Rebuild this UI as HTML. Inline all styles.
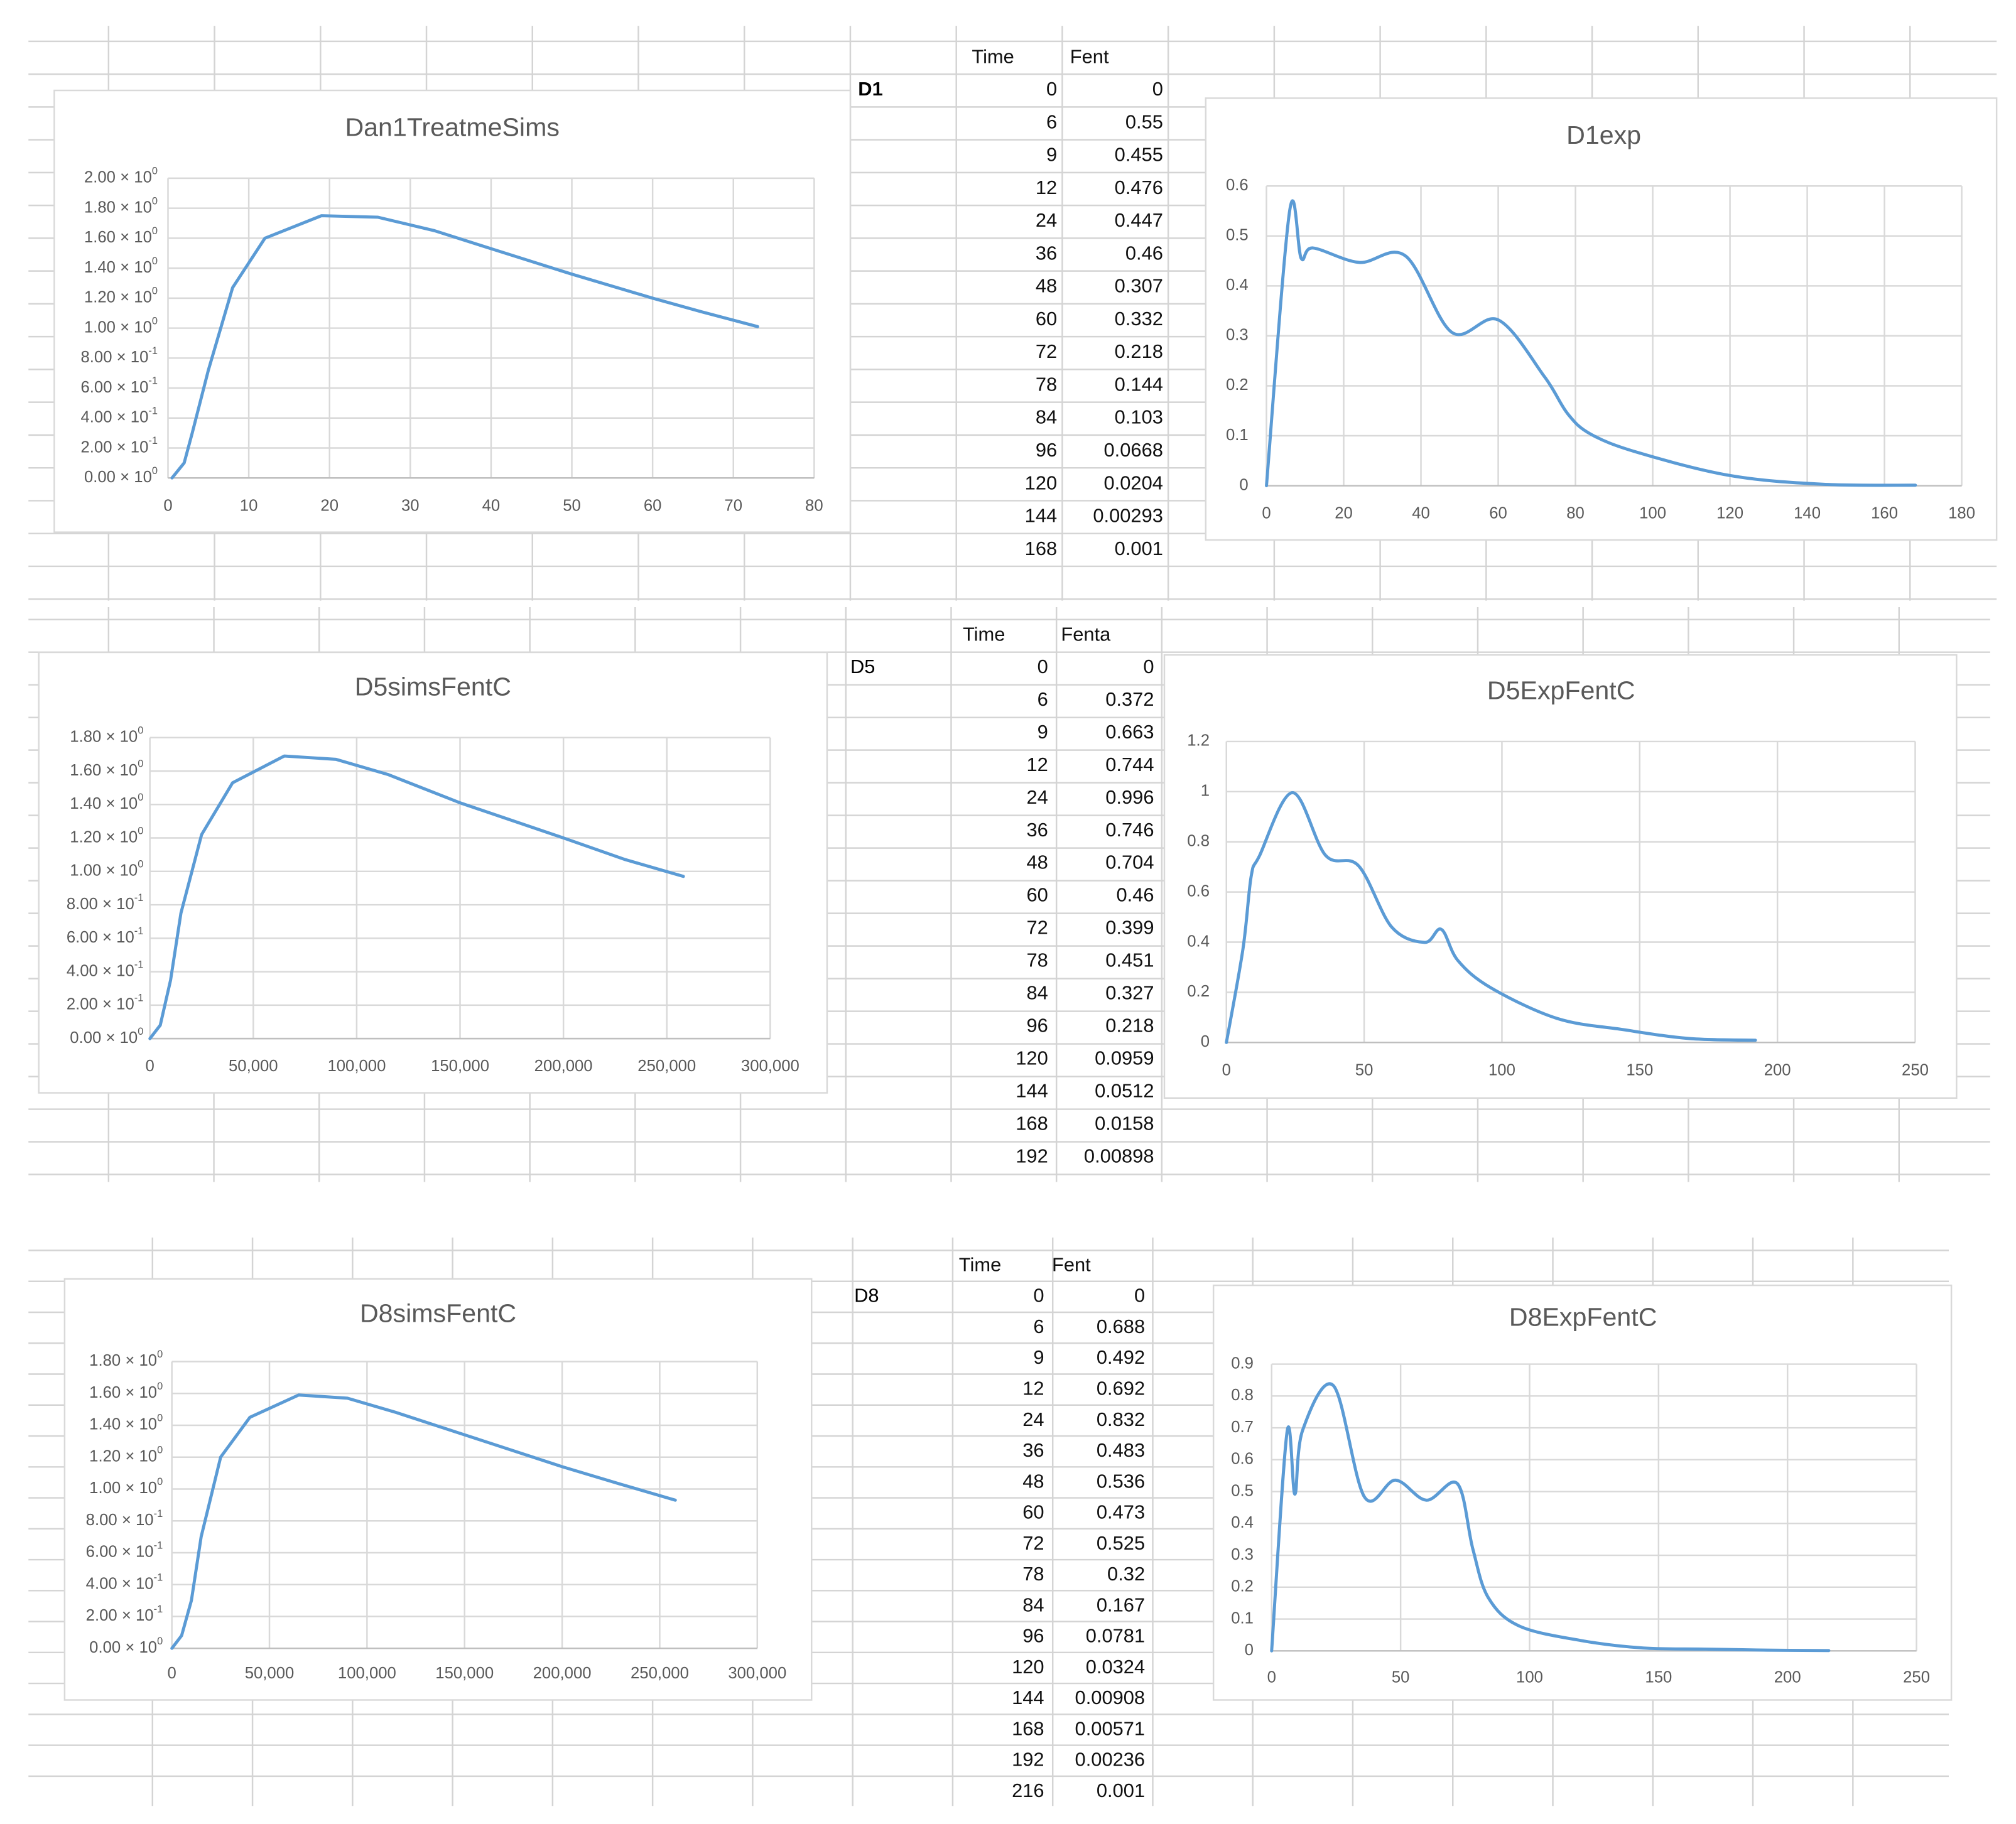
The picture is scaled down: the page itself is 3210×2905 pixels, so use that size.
<!DOCTYPE html>
<html><head><meta charset="utf-8">
<style>
html,body{margin:0;padding:0;background:#fff;}
svg{display:block;}
text{font-family:"Liberation Sans",sans-serif;}
</style></head>
<body>
<svg id="root" width="3210" height="2905" viewBox="0 0 1560 1412" preserveAspectRatio="none" xmlns="http://www.w3.org/2000/svg">
<rect x="0" y="0" width="1560" height="1412" fill="#fff"/>
<g id="grid"></g>
<g id="tables"></g>
<g id="charts"></g>
</svg>
<script>
// ---- Data ----
const d1Time = [0,6,9,12,24,36,48,60,72,78,84,96,120,144,168];
const d1Fent = [0,0.55,0.455,0.476,0.447,0.46,0.307,0.332,0.218,0.144,0.103,0.0668,0.0204,0.00293,0.001];
const d1FentLabels = ["0","0.55","0.455","0.476","0.447","0.46","0.307","0.332","0.218","0.144","0.103","0.0668","0.0204","0.00293","0.001"];
const d5Time = [0,6,9,12,24,36,48,60,72,78,84,96,120,144,168,192];
const d5Fent = [0,0.372,0.663,0.744,0.996,0.746,0.704,0.46,0.399,0.451,0.327,0.218,0.0959,0.0512,0.0158,0.00898];
const d5FentLabels = ["0","0.372","0.663","0.744","0.996","0.746","0.704","0.46","0.399","0.451","0.327","0.218","0.0959","0.0512","0.0158","0.00898"];
const d8Time = [0,6,9,12,24,36,48,60,72,78,84,96,120,144,168,192,216];
const d8Fent = [0,0.688,0.492,0.692,0.832,0.483,0.536,0.473,0.525,0.32,0.167,0.0781,0.0324,0.00908,0.00571,0.00236,0.001];
const d8FentLabels = ["0","0.688","0.492","0.692","0.832","0.483","0.536","0.473","0.525","0.32","0.167","0.0781","0.0324","0.00908","0.00571","0.00236","0.001"];
const sim1X = [0.5,2,3,5,8,12,19,26,33,40,50,60,66,73];
const sim1Y = [0,0.1,0.3,0.72,1.27,1.6,1.75,1.74,1.65,1.53,1.36,1.2,1.11,1.01];
const sim5X = [0,5000,10000,15000,25000,40000,65000,90000,115000,150000,200000,230000,258000];
const sim5Y = [0,0.08,0.35,0.75,1.22,1.53,1.69,1.67,1.58,1.41,1.2,1.07,0.97];
const sim8X = [0,5000,10000,15000,25000,40000,65000,90000,115000,150000,200000,230000,258000];
const sim8Y = [0,0.08,0.3,0.7,1.2,1.45,1.59,1.57,1.48,1.34,1.14,1.03,0.93];
const sim1YTicks = [["0.00 × 10","0"],["2.00 × 10","-1"],["4.00 × 10","-1"],["6.00 × 10","-1"],["8.00 × 10","-1"],["1.00 × 10","0"],["1.20 × 10","0"],["1.40 × 10","0"],["1.60 × 10","0"],["1.80 × 10","0"],["2.00 × 10","0"]];
const sim5YTicks = sim1YTicks.slice(0,10);
const sim1XTicks = ["0","10","20","30","40","50","60","70","80"];
const simBigXTicks = ["0","50,000","100,000","150,000","200,000","250,000","300,000"];
const d1XTicks = ["0","20","40","60","80","100","120","140","160","180"];
const d1YTicks = ["0","0.1","0.2","0.3","0.4","0.5","0.6"];
const d5XTicks = ["0","50","100","150","200","250"];
const d5YTicks = ["0","0.2","0.4","0.6","0.8","1","1.2"];
const d8YTicks = ["0","0.1","0.2","0.3","0.4","0.5","0.6","0.7","0.8","0.9"];

const NS = "http://www.w3.org/2000/svg";
function mk(tag, attrs, parent){ const e=document.createElementNS(NS,tag); for(const k in attrs) e.setAttribute(k,attrs[k]); parent.appendChild(e); return e; }
function txt(s, x, y, size, anchor, parent, fill, weight){ const t=mk('text',{x:x,y:y,'font-size':size,'text-anchor':anchor||'start','fill':fill||'#000','dominant-baseline':'middle','font-weight':weight||'normal'},parent); t.textContent=s; return t; }

// ---- spreadsheet grid ----
const grid=document.getElementById('grid');
function sheet(y0,y1,hStart,hStep,hEnd,vStart,vStep,xEnd,vTop){
  for(let y=hStart;y<=hEnd+0.1;y+=hStep) mk('line',{x1:22,x2:xEnd,y1:y,y2:y,stroke:'#d4d4d4','stroke-width':1.2},grid);
  for(let x=vStart;x<=xEnd;x+=vStep) mk('line',{x1:x,x2:x,y1:vTop,y2:y1,stroke:'#d4d4d4','stroke-width':1.2},grid);
}
sheet(20,465,32,25.4,464,84,82,1545,20);
sheet(470,915,479.6,25.27,910,84,81.5,1540,470);
sheet(958,1398,968,23.94,1398,118,77.4,1508,958);

// ---- tables ----
const tables=document.getElementById('tables');
function table(name, label, bold, header2, times, vals, lblX, timeR, valR, headY, row0, step){
  const g=mk('g',{},tables);
  
  
  txt('Time', timeR-66, headY, 15, 'start', g, '#111');
  txt(header2, valR-72, headY, 15, 'start', g, '#111');
  txt(label, lblX, row0, 15, 'start', g, '#000', bold?'bold':'normal');
  times.forEach((t,i)=>{
    const c1=txt(String(t), timeR, row0+i*step, 15, 'end', g, '#111');
    
    
    const c2=txt(vals[i], valR, row0+i*step, 15, 'end', g, '#111');
    
    
  });
}
table('d1-data-table','D1',true,'Fent',d1Time,d1FentLabels,664,818,900,45,70,25.4);
table('d5-data-table','D5',false,'Fenta',d5Time,d5FentLabels,658,811,893,492,517,25.27);
table('d8-data-table','D8',false,'Fent',d8Time,d8FentLabels,661,808,886,980,1004,23.94);

// ---- charts ----
const charts=document.getElementById('charts');
function smoothPath(pts){
  let d='M'+pts[0][0]+','+pts[0][1];
  for(let i=0;i<pts.length-1;i++){
    const p0=pts[Math.max(0,i-1)],p1=pts[i],p2=pts[i+1],p3=pts[Math.min(pts.length-1,i+2)];
    const t=1/6;
    const c1=[p1[0]+(p2[0]-p0[0])*t,p1[1]+(p2[1]-p0[1])*t];
    const c2=[p2[0]-(p3[0]-p1[0])*t,p2[1]-(p3[1]-p1[1])*t];
    d+=' C'+c1[0]+','+c1[1]+' '+c2[0]+','+c2[1]+' '+p2[0]+','+p2[1];
  }
  return d;
}
function chart(o){
  const g=mk('g',{},charts);
  
  
  mk('rect',{x:o.box[0],y:o.box[1],width:o.box[2]-o.box[0],height:o.box[3]-o.box[1],fill:'#fff',stroke:'#d9d9d9','stroke-width':1.2},g);
  const tt=txt(o.title,o.titleX,o.titleY,20,'middle',g,'#595959');
  
  
  const [px0,py0,px1,py1]=o.plot; // px0 at xmin, py0 top(ymax), py1 bottom(0)
  const xs=v=>px0+(v-o.xMin)/(o.xMax-o.xMin)*(px1-px0);
  const ys=v=>py1-(v-o.yMin)/(o.yMax-o.yMin)*(py1-py0);
  const nY=o.yTicks.length, nX=o.xTicks.length;
  for(let i=0;i<nY;i++){
    const v=o.yMin+i*(o.yMax-o.yMin)/(nY-1), y=ys(v);
    mk('line',{x1:px0,x2:px1,y1:y,y2:y,stroke:'#d9d9d9','stroke-width':1.2},g);
    const lab=o.yTicks[i];
    const t=mk('text',{x:o.yLabX,y:y,'font-size':12.5,'text-anchor':'end','fill':'#595959','dominant-baseline':'middle'},g);
    
    
    if(Array.isArray(lab)){
      t.appendChild(document.createTextNode(lab[0]));
      const s=mk('tspan',{'font-size':8,dy:-5},t); s.textContent=lab[1];
    } else t.textContent=lab;
  }
  for(let i=0;i<nX;i++){
    const v=o.xMin+i*(o.xMax-o.xMin)/(nX-1), x=xs(v);
    mk('line',{x1:x,x2:x,y1:py0,y2:py1,stroke:'#d9d9d9','stroke-width':1.2},g);
    const t=txt(o.xTicks[i],x,o.xLabY,12.5,'middle',g,'#595959');
    
    
  }
  mk('line',{x1:px0,x2:px1,y1:py1,y2:py1,stroke:'#bfbfbf','stroke-width':1.2},g);
  const pts=o.xd.map((v,i)=>[xs(v),ys(o.yd[i])]);
  const d=o.smooth?smoothPath(pts):'M'+pts.map(p=>p[0]+','+p[1]).join(' L');
  const line=mk('path',{d:d,fill:'none',stroke:'#5b9bd5','stroke-width':2.4,'stroke-linejoin':'round','stroke-linecap':'round'},g);
  
  
}
chart({name:'dan1-treatme-sims-chart',box:[42,70,658,412],title:'Dan1TreatmeSims',titleX:350,titleY:100,plot:[130,138,630,370],xMin:0,xMax:80,yMin:0,yMax:2,yTicks:sim1YTicks,xTicks:sim1XTicks,yLabX:122,xLabY:392,xd:sim1X,yd:sim1Y,smooth:false});
chart({name:'d1exp-chart',box:[933,76,1545,418],title:'D1exp',titleX:1241,titleY:106,plot:[980,144,1518,376],xMin:0,xMax:180,yMin:0,yMax:0.6,yTicks:d1YTicks,xTicks:d1XTicks,yLabX:966,xLabY:398,xd:d1Time,yd:d1Fent,smooth:true});
chart({name:'d5-sims-fentc-chart',box:[30,505,640,846],title:'D5simsFentC',titleX:335,titleY:533,plot:[116,571,596,804],xMin:0,xMax:300000,yMin:0,yMax:1.8,yTicks:sim5YTicks,xTicks:simBigXTicks,yLabX:111,xLabY:826,xd:sim5X,yd:sim5Y,smooth:false});
chart({name:'d5-exp-fentc-chart',box:[901,507,1514,850],title:'D5ExpFentC',titleX:1208,titleY:536,plot:[949,574,1482,807],xMin:0,xMax:250,yMin:0,yMax:1.2,yTicks:d5YTicks,xTicks:d5XTicks,yLabX:936,xLabY:829,xd:d5Time,yd:d5Fent,smooth:true});
chart({name:'d8-sims-fentc-chart',box:[50,990,628,1316],title:'D8simsFentC',titleX:339,titleY:1018,plot:[133,1054,586,1276],xMin:0,xMax:300000,yMin:0,yMax:1.8,yTicks:sim5YTicks,xTicks:simBigXTicks,yLabX:126,xLabY:1296,xd:sim8X,yd:sim8Y,smooth:false});
chart({name:'d8-exp-fentc-chart',box:[939,995,1510,1316],title:'D8ExpFentC',titleX:1225,titleY:1021,plot:[984,1056,1483,1278],xMin:0,xMax:250,yMin:0,yMax:0.9,yTicks:d8YTicks,xTicks:d5XTicks,yLabX:970,xLabY:1299,xd:d8Time,yd:d8Fent,smooth:true});
</script>
</body></html>
